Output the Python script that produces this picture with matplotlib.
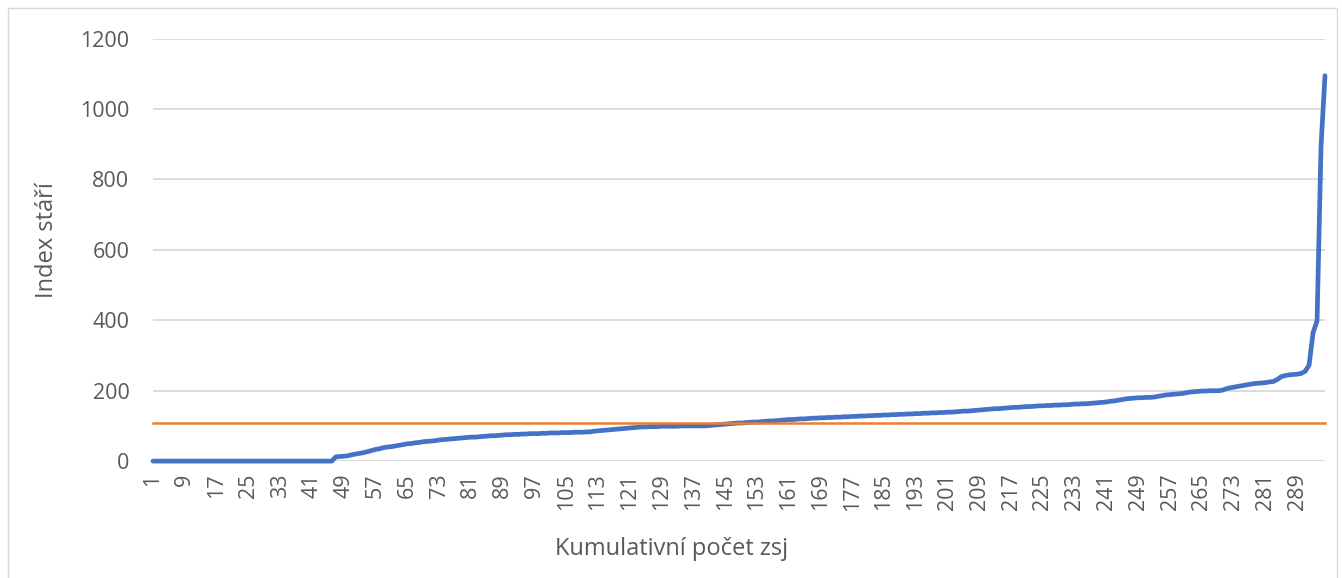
import matplotlib
matplotlib.use("Agg")
import matplotlib.pyplot as plt
from matplotlib.patches import Rectangle

# ---- data ----
n_zero = 46
zeros = [0] * n_zero
rising = [
    12, 13, 14, 15, 18, 20, 22, 24, 27, 30,
    33, 35, 38, 40, 41, 43, 45, 47, 49, 50,
    52, 53, 55, 56, 57, 58, 60, 61, 62, 63,
    64, 65, 66, 67, 68, 68, 69, 70, 71, 72,
    72, 73, 74, 75, 75, 76, 76, 77, 77, 78,
    78, 78, 79, 79, 80, 80, 80, 81, 81, 81,
    82, 82, 82, 83, 83, 85, 86, 87, 88, 89,
    90, 91, 92, 93, 94, 95, 96, 97, 97, 98,
    98, 98, 99, 99, 99, 99, 99, 100, 100, 100,
    100, 100, 100, 100, 101, 102, 103, 104, 105, 106,
    107, 108, 108, 109, 110, 111, 111, 112, 113, 114,
    114, 115, 116, 117, 118, 118, 119, 120, 120, 121,
    122, 122, 123, 123, 124, 124, 125, 125, 126, 126,
    127, 127, 128, 128, 129, 129, 130, 130, 131, 131,
    132, 132, 133, 133, 134, 134, 135, 135, 136, 136,
    137, 137, 138, 138, 139, 139, 140, 141, 142, 142,
    143, 144, 145, 146, 147, 148, 149, 149, 150, 151,
    152, 153, 153, 154, 155, 155, 156, 157, 157, 158,
    158, 159, 159, 160, 160, 161, 162, 162, 163, 163,
    164, 165, 166, 167, 168, 170, 171, 173, 175, 177,
    178, 179, 180, 180, 181, 181, 182, 184, 186, 188,
    189, 190, 191, 192, 194, 196, 197, 198, 199, 199,
    200, 200, 200, 201, 205, 208, 210, 212, 214, 216,
    218, 220, 221, 222, 223, 225, 226, 232, 240, 243,
    245, 246, 247, 249, 255, 273, 365, 398, 895, 1095,
]
index_stari = zeros + rising
threshold = 107
categories = list(range(1, len(index_stari) + 1))
tick_step = 8
y_ticks = [0, 200, 400, 600, 800, 1000, 1200]

# ---- figure ----
W, H = 1342, 578
fig = plt.figure(figsize=(W / 100, H / 100), dpi=100)
plt.rcParams['font.family'] = ['Open Sans', 'DejaVu Sans']

# outer frame
fig.patches.append(Rectangle((8 / W, -0.05), (1337 - 8) / W, 1.05 - 8 / H,
                             transform=fig.transFigure, fill=False,
                             edgecolor='#d9d9d9', linewidth=1.0))

left, right, top, bottom = 153, 1325, 38.7, 461.1
ax = fig.add_axes([left / W, 1 - bottom / H, (right - left) / W, (bottom - top) / H])

ax.plot(categories, index_stari, color='#4472C4', linewidth=3.4,
        solid_joinstyle='round', solid_capstyle='round', clip_on=False, zorder=3)
ax.plot(categories, [threshold] * len(categories), color='#ED7D31',
        linewidth=1.8, clip_on=False, zorder=4)

ax.set_xlim(1, len(categories))
ax.set_ylim(0, 1200)
ax.set_yticks(y_ticks)
ax.set_xticks(categories[::tick_step])
ax.set_xticklabels([str(c) for c in categories[::tick_step]], rotation=90)

ax.grid(axis='y', color='#d9d9d9', linewidth=1.3, zorder=0)
ax.set_axisbelow(True)
for s in ax.spines.values():
    s.set_visible(False)
ax.tick_params(axis='both', length=0, colors='#595959', labelsize=15.5)
ax.tick_params(axis='y', pad=17)
ax.tick_params(axis='x', pad=9)

fig.text(47 / W, 1 - 240 / H, 'Index stáří', fontsize=17, color='#595959',
         rotation=90, ha='center', va='center')
fig.text(672 / W, 1 - 549 / H, 'Kumulativní počet zsj', fontsize=17,
         color='#595959', ha='center', va='center')

fig.savefig('out.png', dpi=100)
